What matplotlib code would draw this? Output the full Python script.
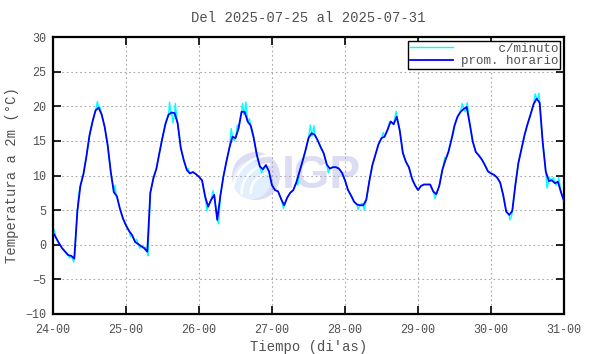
import numpy as np
import matplotlib
matplotlib.use("Agg")
import matplotlib.pyplot as plt
from matplotlib.patches import Ellipse, Arc

# promedio horario (grados C), una muestra por hora desde 24-00 hasta 31-00
hourly_temp = [
    1.8, 1.0, 0.2, -0.5, -1.0, -1.5, -1.6, -2.0, 4.8, 8.5, 10.2, 12.8,
    15.8, 17.8, 19.4, 19.8, 18.8, 17.0, 14.3, 10.5, 7.6, 7.0, 5.2, 3.8,
    2.8, 2.0, 1.4, 0.4, 0.1, -0.2, -0.5, -1.0, 7.5, 9.6, 11.0, 13.3,
    15.5, 17.5, 18.8, 19.1, 19.0, 17.5, 14.0, 12.2, 10.8, 10.3, 10.5, 10.2,
    9.8, 9.3, 7.0, 5.5, 6.5, 7.2, 3.6, 7.0, 9.8, 12.0, 14.0, 15.6,
    15.4, 16.8, 19.2, 19.2, 17.8, 17.2, 15.4, 13.0, 11.3, 10.9, 11.5, 10.6,
    8.6, 7.9, 7.7, 6.6, 5.7, 6.8, 7.5, 7.9, 9.0, 10.5, 12.0, 13.6,
    15.4, 16.1, 15.9, 15.1, 14.1, 13.2, 11.6, 11.0, 11.2, 11.2, 11.0, 10.4,
    9.3, 7.9, 7.1, 6.2, 5.8, 5.7, 5.7, 6.5, 9.2, 11.5, 13.0, 14.5,
    15.4, 15.6, 16.6, 17.8, 17.4, 18.5, 16.5, 13.3, 12.0, 11.2, 9.6, 8.6,
    7.9, 8.5, 8.7, 8.7, 8.7, 7.7, 7.3, 8.5, 10.8, 12.2, 13.4, 15.2,
    17.2, 18.5, 19.2, 19.6, 19.9, 17.5, 14.9, 13.4, 12.9, 12.3, 11.5, 10.6,
    10.3, 10.1, 9.7, 9.0, 7.2, 4.8, 4.3, 4.9, 8.6, 11.8, 13.8, 15.8,
    17.4, 18.8, 20.3, 21.1, 20.5, 14.8, 10.6, 9.2, 9.3, 8.9, 9.1, 7.6,
    6.3,
]

# picos visibles de la serie por minuto (hora desde 24-00, grados C)
minute_hours = [
    0.4, 2.5, 5.5, 6.8, 8.4, 13.6, 14.6, 15.4, 20.4, 20.8, 25.5, 27.5,
    28.5, 30.3, 31.2, 37.8, 38.3, 38.8, 39.4, 40.2, 40.8, 44.4, 50.6, 52.6,
    54.5, 58.6, 59.6, 60.6, 62.3, 62.8, 63.4, 64.6, 65.6, 68.6, 71.2, 75.8,
    80.5, 84.6, 85.2, 85.8, 90.5, 100.2, 101.5, 102.3, 108.6, 110.4, 112.8, 113.5,
    118.2, 125.6, 128.8, 131.6, 134.5, 135.5, 136.2, 150.2, 150.8, 154.8, 158.5, 159.3,
    159.8, 162.4, 163.0, 164.6, 165.4, 166.3,
]
minute_temp = [
    2.2, -0.1, -1.9, -2.5, 7.2, 18.9, 20.7, 19.9, 8.6, 7.0, 1.2, 0.8,
    -0.5, -0.3, -1.6, 18.6, 20.6, 18.8, 17.6, 20.4, 18.0, 11.0, 4.9, 7.8,
    3.0, 16.8, 15.0, 17.3, 20.4, 18.8, 20.6, 18.2, 16.4, 10.4, 10.0, 5.2,
    8.6, 17.3, 15.7, 17.2, 10.4, 5.1, 6.0, 5.0, 16.2, 17.4, 19.3, 17.8,
    9.2, 6.7, 12.6, 16.0, 20.4, 19.2, 20.5, 3.6, 4.2, 15.2, 21.8, 21.0,
    21.9, 8.2, 9.8, 9.7, 8.6, 9.7,
]

day_labels = ["24-00", "25-00", "26-00", "27-00", "28-00", "29-00", "30-00", "31-00"]
y_ticks = [-10, -5, 0, 5, 10, 15, 20, 25, 30]

hours = np.arange(len(hourly_temp))
t_hour = hours / 24.0
all_h = np.concatenate([hours, minute_hours])
all_v = np.concatenate([hourly_temp, minute_temp])
order = np.argsort(all_h, kind="stable")
t_min = all_h[order] / 24.0
v_min = all_v[order]

txt = "#505050"
plt.rcParams["font.family"] = ["Liberation Mono", "DejaVu Sans Mono"]

fig = plt.figure(figsize=(5.9, 3.54), dpi=100)
ax = fig.add_axes([53 / 590, 1 - 314 / 354, (564 - 53) / 590, (314 - 37) / 354])

# marca de agua IGP
cx, cy = (256 - 53) / 73.0, (244.75 - 176) / 6.925
ax.add_patch(Ellipse((cx, cy), 48 / 73.0, 48 / 6.925, facecolor="#dcdcf5",
                     edgecolor="none", zorder=0))
ax.add_patch(Ellipse((cx - 0.06, cy - 0.6), 38 / 73.0, 38 / 6.925, facecolor="#e2efff",
                     edgecolor="none", zorder=0))
for k in range(3):
    r = 20 + k * 9
    ax.add_patch(Arc((cx + 0.2, cy - 2.5), r / 36.5, r / 3.46, theta1=90, theta2=200,
                     color="white", lw=1.8, zorder=0))
ax.text((282 - 53) / 73.0, cy, "IGP", fontsize=33, fontweight="bold",
        family="Liberation Sans", color="#dcdcf5", va="center", ha="left", zorder=0)

ax.plot(t_min, v_min, color="#00ffff", lw=1.0, label="     c/minuto", zorder=2)
ax.plot(t_hour, hourly_temp, color="#0000ff", lw=1.3, label="prom. horario", zorder=3)

ax.set_xlim(0, 7)
ax.set_ylim(-10, 30)
ax.set_xticks(range(len(day_labels)))
ax.set_xticklabels(day_labels)
ax.set_yticks(y_ticks)
ax.tick_params(direction="in", length=6, width=1.2, top=True, right=True,
               labelsize=8.5, labelcolor=txt, pad=7, color="black")
ax.tick_params(axis="y", pad=5)
ax.tick_params(axis="x", labeltop=False)
ax.tick_params(axis="y", labelright=False)
ax.grid(True, color="#a8a8a8", linestyle=(0, (1.5, 2.5)), lw=0.8)
for s in ax.spines.values():
    s.set_linewidth(1.6)

ax.set_title("Del 2025-07-25 al 2025-07-31", fontsize=10, color=txt, pad=11)
ax.set_xlabel("Tiempo (di'as)", fontsize=10, color=txt, labelpad=3)
ax.set_ylabel("Temperatura a 2m (°C)", fontsize=10, color=txt, labelpad=4)

leg = ax.legend(loc="upper right", fontsize=9, frameon=True, fancybox=False,
                edgecolor="black", framealpha=1, handlelength=3.5,
                borderpad=0.15, labelspacing=0.05, handletextpad=0.6,
                borderaxespad=0.3)
leg.get_frame().set_linewidth(1.0)
for t in leg.get_texts():
    t.set_color(txt)

fig.savefig("out.png", dpi=100)
